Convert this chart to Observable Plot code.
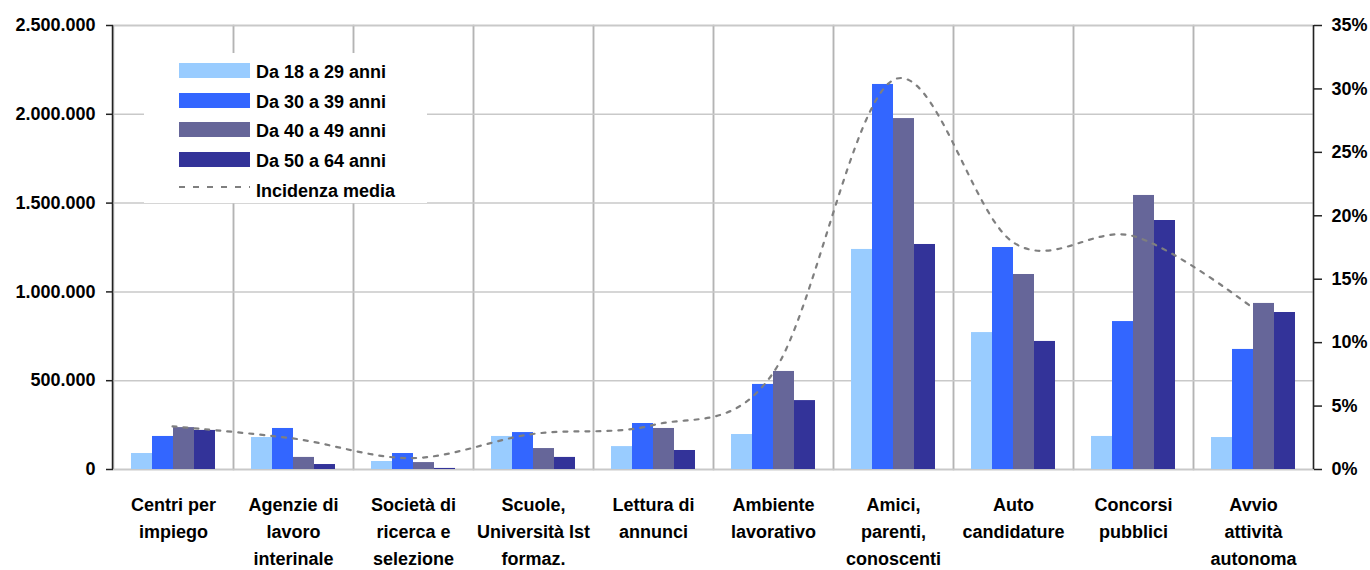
<!DOCTYPE html>
<html lang="it">
<head>
<meta charset="utf-8">
<title>Canali di ricerca del lavoro per fascia d'età</title>
<script src="https://cdn.jsdelivr.net/npm/d3@7"></script>
<script src="https://cdn.jsdelivr.net/npm/@observablehq/plot@0.6"></script>
<style>
  html, body { margin: 0; padding: 0; background: #fff; }
  body { font-family: "Liberation Sans", Arial, sans-serif; }
  #chart { position: relative; width: 1370px; height: 570px; overflow: hidden; }
  #chart > svg { position: absolute; left: 0; top: 0; overflow: visible; }
  .legend { position: absolute; left: 144px; top: 53px; width: 283px; height: 150px; background: #fff; }
  .legend .row { position: absolute; left: 0; height: 18px; width: 283px; }
  .legend .sw { position: absolute; left: 35px; top: 0; width: 71px; height: 15px; }
  .legend .dash { position: absolute; left: 35px; top: 0; width: 71px; height: 15px; }
  .legend .lab { position: absolute; left: 112px; top: 0; font: bold 18px/18px "Liberation Sans", Arial, sans-serif; color: #000; white-space: nowrap; }
</style>
</head>
<body>
<div id="chart"></div>
<script>
// Canali di ricerca (etichette dell'asse orizzontale, con a capo)
const categories = [
  "Centri per\nimpiego",
  "Agenzie di\nlavoro\ninterinale",
  "Società di\nricerca e\nselezione",
  "Scuole,\nUniversità Ist\nformaz.",
  "Lettura di\nannunci",
  "Ambiente\nlavorativo",
  "Amici,\nparenti,\nconoscenti",
  "Auto\ncandidature",
  "Concorsi\npubblici",
  "Avvio\nattività\nautonoma"
];

// Fasce d'età e colori
const seriesNames = ["Da 18 a 29 anni", "Da 30 a 39 anni", "Da 40 a 49 anni", "Da 50 a 64 anni"];
const seriesColors = ["#99CCFF", "#3366FF", "#666699", "#333399"];

// Valori assoluti per fascia d'età
const age18to29 = [90000, 180000, 45000, 186000, 129000, 197000, 1239000, 771000, 186000, 180000];
const age30to39 = [186000, 231000, 90000, 208000, 259000, 479000, 2168000, 1250000, 833000, 676000];
const age40to49 = [236000, 68000, 39000, 118000, 231000, 552000, 1976000, 1098000, 1543000, 935000];
const age50to64 = [220000, 28000, 6000, 68000, 107000, 388000, 1267000, 721000, 1402000, 884000];

// Incidenza media (%) sull'asse destro
const lineName = "Incidenza media";
const incidenzaMedia = [3.4, 2.45, 0.9, 2.8, 3.5, 7.6, 30.7, 17.9, 18.4, 12.7];

// Tacche degli assi
const leftTicks = [0, 500000, 1000000, 1500000, 2000000, 2500000];
const rightTicks = [0, 5, 10, 15, 20, 25, 30, 35];

const seriesValues = [age18to29, age30to39, age40to49, age50to64];
const rows = categories.flatMap((categoria, i) =>
  seriesNames.map((fascia, k) => ({categoria, fascia, valore: seriesValues[k][i]}))
);
const lineRows = categories.map((categoria, i) => ({pos: i + 0.5, incidenza: incidenzaMedia[i]}));

const itLocale = d3.formatLocale({decimal: ",", thousands: ".", grouping: [3], currency: ["€", ""]});
const fmtThousands = itLocale.format(",d");

const W = 1370, H = 570;
const margins = {marginLeft: 112, marginRight: 57, marginTop: 25, marginBottom: 101};
const fontFamily = '"Liberation Sans", Arial, sans-serif';
const baseStyle = {fontFamily, fontSize: "18px", fontWeight: "bold", color: "#000", background: "transparent", overflow: "visible"};

// Istogramma raggruppato (un pannello per canale)
const bars = Plot.plot({
  width: W, height: H, ...margins,
  style: baseStyle,
  fx: {domain: categories, padding: 0},
  x: {domain: seriesNames, paddingInner: 0, paddingOuter: 0.76, axis: null},
  y: {domain: [0, 2500000]},
  color: {domain: seriesNames, range: seriesColors},
  marks: [
    Plot.frame({stroke: "#b4b4b4", strokeWidth: 1.5}),
    Plot.gridY(leftTicks, {stroke: "#c9c9c9", strokeOpacity: 1, strokeWidth: 1.5}),
    Plot.barY(rows, {fx: "categoria", x: "fascia", y: "valore", fill: "fascia"}),
    Plot.axisY(leftTicks, {
      anchor: "left", tickFormat: fmtThousands, tickSize: 7, tickPadding: 11,
      stroke: "#222", strokeWidth: 1.5, fill: "#000", label: null,
      fontSize: 18, fontWeight: "bold"
    }),
    Plot.axisFx({
      anchor: "bottom", tickSize: 0, tickPadding: 22, label: null,
      lineHeight: 1.5, fill: "#000", fontSize: 18, fontWeight: "bold"
    })
  ]
});

// Linea dell'incidenza media con asse percentuale a destra
const overlay = Plot.plot({
  width: W, height: H, ...margins,
  style: baseStyle,
  x: {domain: [0, categories.length], axis: null},
  y: {domain: [0, 35]},
  marks: [
    Plot.line(lineRows, {
      x: "pos", y: "incidenza", curve: "cardinal", tension: 0,
      stroke: "#7f7f7f", strokeWidth: 2.2, strokeDasharray: "4,7"
    }),
    Plot.ruleX([0, categories.length], {stroke: "#222", strokeWidth: 1.5}),
    Plot.axisY(rightTicks, {
      anchor: "right", tickFormat: d => d + "%", tickSize: 8, tickPadding: 10,
      stroke: "#222", strokeWidth: 1.5, fill: "#000", label: null,
      fontSize: 18, fontWeight: "bold"
    })
  ]
});
overlay.style.pointerEvents = "none";

const chart = document.getElementById("chart");
chart.appendChild(bars);
chart.appendChild(overlay);

// Legenda
const legend = document.createElement("div");
legend.className = "legend";
const entries = seriesNames.map((name, k) => ({name, color: seriesColors[k]}))
  .concat([{name: lineName, dashed: true}]);
entries.forEach((e, k) => {
  const row = document.createElement("div");
  row.className = "row";
  row.style.top = (10 + k * 29.7) + "px";
  if (e.dashed) {
    row.innerHTML = '<svg class="dash" viewBox="0 0 71 15"><line x1="0" x2="71" y1="5" y2="5" stroke="#7f7f7f" stroke-width="2" stroke-dasharray="6,8"/></svg>';
  } else {
    const sw = document.createElement("div");
    sw.className = "sw";
    sw.style.background = e.color;
    row.appendChild(sw);
  }
  const lab = document.createElement("div");
  lab.className = "lab";
  lab.textContent = e.name;
  row.appendChild(lab);
  legend.appendChild(row);
});
chart.appendChild(legend);
</script>
</body>
</html>
